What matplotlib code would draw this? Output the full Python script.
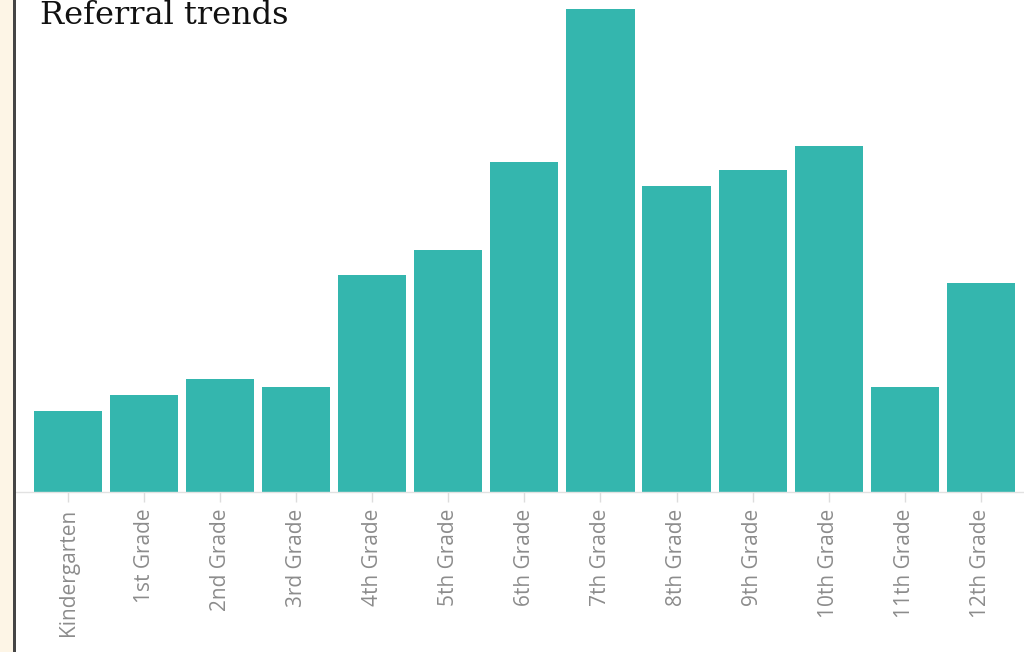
import matplotlib.pyplot as plt
from matplotlib.patches import Rectangle

# referral counts by grade level
grades = ["Kindergarten", "1st Grade", "2nd Grade", "3rd Grade", "4th Grade",
          "5th Grade", "6th Grade", "7th Grade", "8th Grade", "9th Grade",
          "10th Grade", "11th Grade", "12th Grade"]
referrals = [10, 12, 14, 13, 27, 30, 41, 60, 38, 40, 43, 13, 26]

W, H = 1024, 652
fig = plt.figure(figsize=(W / 100, H / 100), dpi=100)
fig.patch.set_facecolor("white")

# cream strip and dark border down the left side
fig.patches.append(Rectangle((0, 0), 13 / W, 1, transform=fig.transFigure,
                             facecolor="#fdf5e6", edgecolor="none", zorder=0))
fig.patches.append(Rectangle((13 / W, 0), 2.5 / W, 1, transform=fig.transFigure,
                             facecolor="#454545", edgecolor="none", zorder=1))

ax = fig.add_axes([15 / W, 1 - 492 / H, 1 - 15 / W, 492 / H])
x = list(range(len(grades)))
ax.bar(x, referrals, width=0.895, color="#34b6ae", zorder=2)

ax.set_xlim(-0.70, 12.57)
ax.set_ylim(0, 61.1)
ax.set_xticks(x)
ax.set_xticklabels(grades, rotation=90, family="Open Sans", fontsize=15,
                   color="#8c8c8c", va="top")
ax.tick_params(axis="x", length=7, width=1, color="#dddddd", pad=5)
ax.set_yticks([])

for side in ["top", "right", "left"]:
    ax.spines[side].set_visible(False)
ax.spines["bottom"].set_color("#e2e2e2")
ax.spines["bottom"].set_linewidth(1)

fig.text(40 / W, 1 - 24 / H, "Referral trends", family="DejaVu Serif",
         fontsize=23, color="#111111", ha="left", va="baseline")

fig.savefig("out.png", dpi=100)
